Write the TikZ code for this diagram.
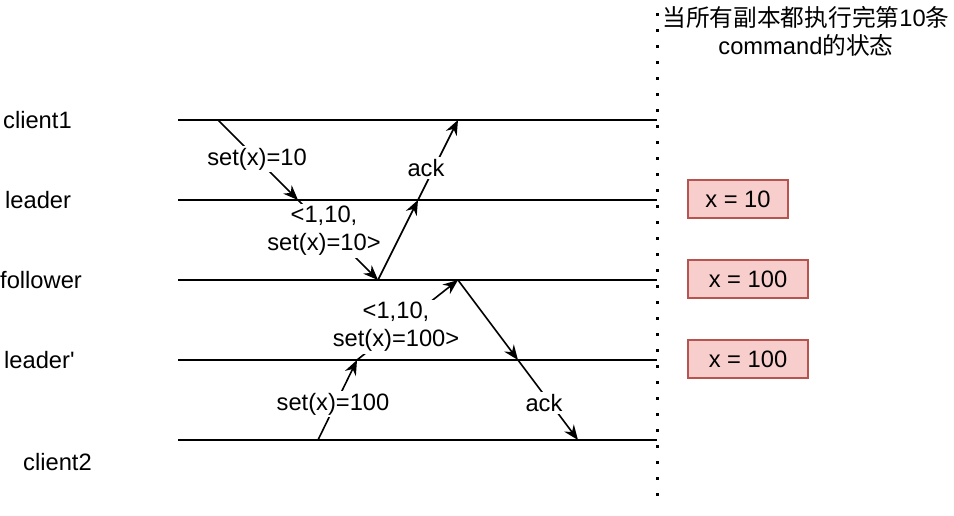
\documentclass[tikz,border=0pt]{standalone}
\usepackage{fontspec}
\setmainfont{Liberation Sans}
\newfontfamily\cjk{Noto Sans CJK SC}
\usetikzlibrary{arrows.meta}
\definecolor{boxred}{HTML}{B85450}
\definecolor{boxfill}{HTML}{F8CECC}
\begin{document}
\begin{tikzpicture}[x=1pt,y=-1pt,
  font=\fontsize{23.7}{28}\selectfont,
  lane/.style={line width=2pt},
  msg/.style={line width=1.6pt,-{Stealth[length=15pt,width=12pt,inset=5pt]}},
  lbl/.style={fill=white,inner xsep=1pt,inner ysep=2pt,align=center},
  who/.style={anchor=west,inner sep=0pt},
  state/.style={draw=boxred,fill=boxfill,line width=1.5pt,minimum height=38pt,inner sep=0pt}]
\useasboundingbox (0,0) rectangle (954,515);

% lane end points
\coordinate (c1s) at (178,120); \coordinate (c1e) at (657,120);
\coordinate (lds) at (178,200); \coordinate (lde) at (657,200);
\coordinate (fos) at (178,280); \coordinate (foe) at (657,280);
\coordinate (lps) at (178,360); \coordinate (lpe) at (657,360);
\coordinate (c2s) at (178,440); \coordinate (c2e) at (657,440);
\coordinate (dtop) at (657,13); \coordinate (dbot) at (657,507);

% lanes
\draw[lane] (c1s) -- (c1e);
\draw[lane] (lds) -- (lde);
\draw[lane] (fos) -- (foe);
\draw[lane] (lps) -- (lpe);
\draw[lane] (c2s) -- (c2e);
\draw[line width=3pt,dash pattern=on 3pt off 13pt] (dtop) -- (dbot);

% participant names
\node[who] (n1) at (3,120) {client1};
\node[who] (n2) at (5,200) {leader};
\node[who] (n3) at (0,280) {follower};
\node[who] (n4) at (4,360) {leader\textquotesingle};
\node[who] (n5) at (23,462) {client2};

% message points
\coordinate (a0) at (218,120);
\coordinate (a1) at (298,200);
\coordinate (a2) at (378,280);
\coordinate (a3) at (418,200);
\coordinate (a4) at (458,120);
\coordinate (b0) at (318,440);
\coordinate (b1) at (357,360);
\coordinate (b2) at (458,280);
\coordinate (b3) at (518,360);
\coordinate (b4) at (578,440);

% messages
\draw[msg] (a0) -- (a1);
\draw[msg] (a1) -- (a2);
\draw[msg] (a2) -- (a3);
\draw[msg] (a3) -- (a4);
\draw[msg] (b0) -- (b1);
\draw[msg] (b1) -- (b2);
\draw[msg] (b2) -- (b3);
\draw[msg] (b3) -- (b4);

% message labels
\node[lbl] (m1) at (257,159) {set(x)=10};
\node[lbl] (m2) at (324,231) {<1,10,\\set(x)=10>};
\node[lbl] (m3) at (426,168) {ack};
\node[lbl] (m4) at (333,404) {set(x)=100};
\node[lbl] (m5) at (396,327) {<1,10,\\set(x)=100>};
\node[lbl] (m6) at (544,403) {ack};

% states
\node[state,minimum width=100pt] (s1) at (738,199) {x = 10};
\node[state,minimum width=120pt] (s2) at (748,279) {x = 100};
\node[state,minimum width=120pt] (s3) at (748,359) {x = 100};

% title
\node[align=center,inner sep=0pt] (t) at (806,31)
  {{\cjk 当所有副本都执行完第}10{\cjk 条}\\command{\cjk 的状态}};
\end{tikzpicture}
\end{document}
